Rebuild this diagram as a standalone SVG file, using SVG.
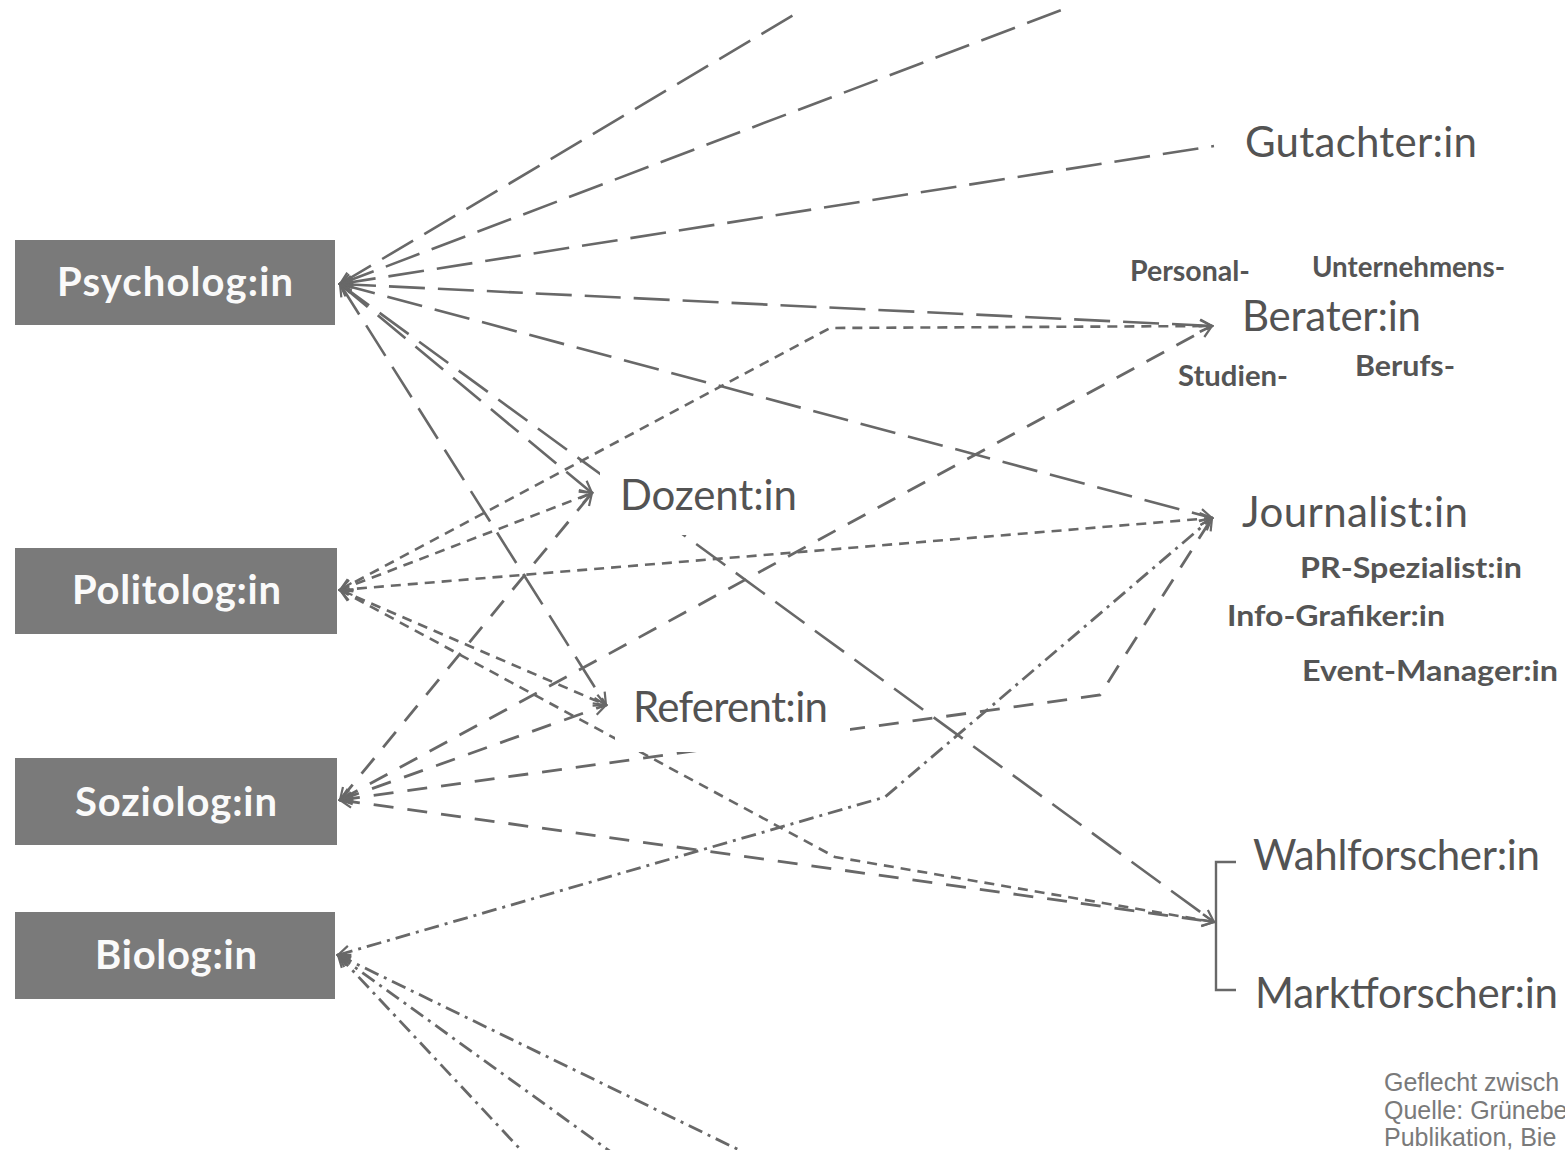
<svg xmlns="http://www.w3.org/2000/svg" width="1565" height="1150" viewBox="0 0 1565 1150">
  <style>
    .c { fill: none; stroke: #686868; stroke-width: 2.6; stroke-linecap: butt; marker-start: url(#ah); }
    .e { marker-end: url(#ah); }
    .ld { stroke-dasharray: 36 13; }
    .sd { stroke-dasharray: 10 7; }
    .md { stroke-dasharray: 20 14; stroke-width: 2.8; }
    .dd { stroke-dasharray: 15 6 3 6; stroke-width: 2.8; }
    .box { fill: #7a7a7a; }
    .bt { font-family: Lato, "Open Sans", "Liberation Sans", sans-serif; font-weight: bold; font-size: 40px; fill: #fafafa; }
    .lt { font-family: Lato, "Open Sans", "Liberation Sans", sans-serif; font-size: 42px; fill: #535353; }
    .st { font-family: Lato, "Open Sans", "Liberation Sans", sans-serif; font-weight: bold; font-size: 29px; fill: #555555; }
    .cap { font-family: "Liberation Sans", Arial, sans-serif; font-size: 25px; fill: #7a7a7a; }
  </style>
  <defs>
    <marker id="ah" viewBox="0 0 16 16" refX="14" refY="8" markerWidth="16" markerHeight="16" markerUnits="userSpaceOnUse" orient="auto-start-reverse">
      <path d="M2,2 L14,8 L2,14" fill="none" stroke="#686868" stroke-width="2.2"/>
    </marker>
  </defs>
  <rect width="1565" height="1150" fill="#ffffff"/>

  <g id="connectors">
    <!-- Psycholog:in (long dash) -->
    <path class="c ld" d="M340,284 L802,10"/>
    <path class="c ld" d="M340,284 L1072,6"/>
    <path class="c ld" d="M340,284 L1214,146"/>
    <path class="c ld e" d="M340,284 L1212,326"/>
    <path class="c ld e" d="M340,284 L1212,518"/>
    <path class="c ld e" d="M340,284 L592,493"/>
    <path class="c ld e" d="M340,284 L1214,922"/>
    <path class="c ld e" d="M340,284 L606,705"/>
    <!-- Politolog:in (short dash) -->
    <path class="c sd e" d="M340,590 L592,493"/>
    <path class="c sd e" d="M340,590 L830,328 L1212,326"/>
    <path class="c sd e" d="M340,590 L1212,518"/>
    <path class="c sd e" d="M340,590 L606,705"/>
    <path class="c sd e" d="M340,590 L835,857 L1214,922"/>
    <!-- Soziolog:in (medium dash) -->
    <path class="c md e" d="M340,800 L592,493"/>
    <path class="c md e" d="M340,800 L1212,326"/>
    <path class="c md e" d="M340,800 L606,705"/>
    <path class="c md e" d="M340,800 L1100,695 L1212,518"/>
    <path class="c md e" d="M340,800 L1214,922"/>
    <!-- Biolog:in (dash-dot) -->
    <path class="c dd e" d="M338,955 L885,797 L1212,518"/>
    <path class="c dd" d="M338,955 L535,1165"/>
    <path class="c dd" d="M338,955 L629,1165"/>
    <path class="c dd" d="M338,955 L770,1165"/>
    <!-- bracket for Wahl-/Marktforscher:in -->
    <path d="M1236,862 H1216 V990 H1236" fill="none" stroke="#686868" stroke-width="2.4"/>
  </g>

  <g id="node-psychologin">
    <rect class="box" x="15" y="240" width="320" height="85"/>
    <text class="bt" x="57" y="296" textLength="236">Psycholog:in</text>
  </g>
  <g id="node-politologin">
    <rect class="box" x="15" y="548" width="322" height="86"/>
    <text class="bt" x="72" y="604" textLength="209">Politolog:in</text>
  </g>
  <g id="node-soziologin">
    <rect class="box" x="15" y="758" width="322" height="87"/>
    <text class="bt" x="75" y="816" textLength="202">Soziolog:in</text>
  </g>
  <g id="node-biologin">
    <rect class="box" x="15" y="912" width="320" height="87"/>
    <text class="bt" x="95" y="969" textLength="162">Biolog:in</text>
  </g>

  <g id="node-dozentin">
    <rect x="600" y="460" width="210" height="75" fill="#ffffff"/>
    <text class="lt" x="620" y="510" textLength="177">Dozent:in</text>
  </g>
  <g id="node-referentin">
    <rect x="615" y="683" width="235" height="69" fill="#ffffff"/>
    <text class="lt" x="633" y="722" textLength="195">Referent:in</text>
  </g>

  <g id="node-gutachterin">
    <text class="lt" x="1245" y="157" textLength="232">Gutachter:in</text>
  </g>
  <g id="node-beraterin">
    <text class="st" x="1130" y="281" textLength="120" lengthAdjust="spacingAndGlyphs">Personal-</text>
    <text class="st" x="1312" y="277" textLength="193" lengthAdjust="spacingAndGlyphs">Unternehmens-</text>
    <text class="lt" x="1242" y="331" textLength="179">Berater:in</text>
    <text class="st" x="1178" y="386" textLength="110" lengthAdjust="spacingAndGlyphs">Studien-</text>
    <text class="st" x="1355" y="376" textLength="100" lengthAdjust="spacingAndGlyphs">Berufs-</text>
  </g>
  <g id="node-journalistin">
    <text class="lt" x="1242" y="527" textLength="226">Journalist:in</text>
    <text class="st" x="1300" y="578" textLength="222" lengthAdjust="spacingAndGlyphs">PR-Spezialist:in</text>
    <text class="st" x="1227" y="626" textLength="218" lengthAdjust="spacingAndGlyphs">Info-Grafiker:in</text>
    <text class="st" x="1302" y="681" textLength="256" lengthAdjust="spacingAndGlyphs">Event-Manager:in</text>
  </g>
  <g id="node-wahlforscherin">
    <text class="lt" x="1253" y="870" textLength="287">Wahlforscher:in</text>
  </g>
  <g id="node-marktforscherin">
    <text class="lt" x="1255" y="1008" textLength="303">Marktforscher:in</text>
  </g>

  <g id="caption">
    <text class="cap" x="1384" y="1091">Geflecht zwisch</text>
    <text class="cap" x="1384" y="1119">Quelle: Grünebe</text>
    <text class="cap" x="1384" y="1146">Publikation, Bie</text>
  </g>
</svg>
